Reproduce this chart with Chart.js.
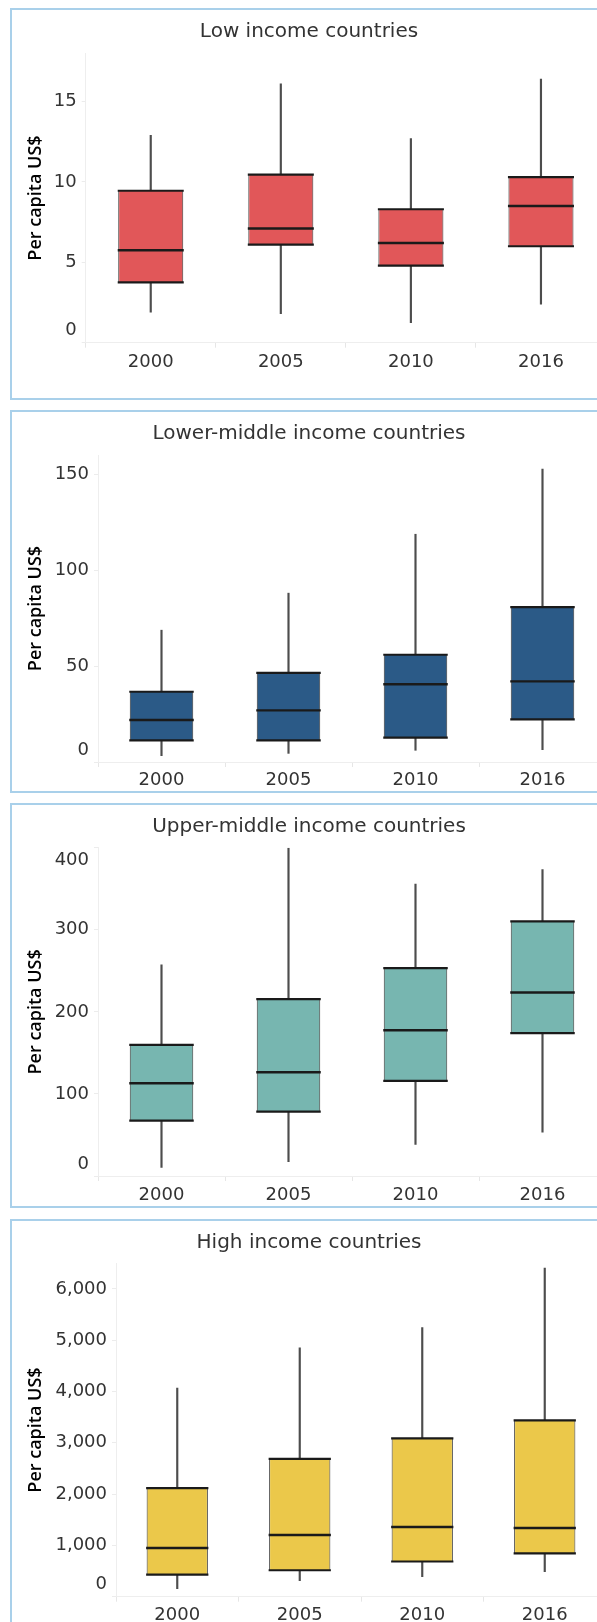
<!DOCTYPE html>
<html>
<head>
<meta charset="utf-8">
<script src="https://cdn.jsdelivr.net/npm/chart.js@4.4.1/dist/chart.umd.min.js"></script>
<style>
  html, body { margin: 0; padding: 0; background: #ffffff; }
  body { width: 597px; height: 1622px; overflow: hidden; position: relative; }
  .panel {
    position: absolute;
    left: 10px;
    border: 2px solid #a9d0ea;
    background: #ffffff;
  }
  .panel canvas { display: block; }
</style>
</head>
<body>
<div class="panel" id="p1"><canvas id="c1"></canvas></div>
<div class="panel" id="p2"><canvas id="c2"></canvas></div>
<div class="panel" id="p3"><canvas id="c3"></canvas></div>
<div class="panel" id="p4"><canvas id="c4"></canvas></div>

<script>
// ---- data ----
const years = ["2000", "2005", "2010", "2016"];

// Low income countries
const lowMin    = [1.9, 1.8, 1.25, 2.4];
const lowQ1     = [3.75, 6.1, 4.8, 6.0];
const lowMedian = [5.75, 7.1, 6.2, 8.5];
const lowQ3     = [9.45, 10.45, 8.3, 10.3];
const lowMax    = [12.9, 16.1, 12.7, 16.4];
const lowTicks  = [0, 5, 10, 15];

// Lower-middle income countries
const lmMin    = [3.3, 4.5, 6.1, 6.4];
const lmQ1     = [11.3, 11.3, 12.7, 22.2];
const lmMedian = [21.9, 26.9, 40.5, 42];
const lmQ3     = [36.6, 46.5, 55.9, 80.7];
const lmMax    = [68.7, 88, 118.7, 152.6];
const lmTicks  = [0, 50, 100, 150];

// Upper-middle income countries
const umMin    = [10.6, 17.5, 38.6, 53.3];
const umQ1     = [67.5, 78.5, 115.9, 174];
const umMedian = [113, 126.4, 177.6, 223.6];
const umQ3     = [159.8, 215.4, 253.3, 310.2];
const umMax    = [257.3, 399.6, 355.7, 373.2];
const umTicks  = [0, 100, 200, 300, 400];

// High income countries
const hiMin    = [157, 314, 392, 490];
const hiQ1     = [431, 516, 686, 843];
const hiMedian = [948, 1203, 1359, 1340];
const hiQ3     = [2118, 2686, 3085, 3438];
const hiMax    = [4065, 4850, 5248, 6405];
const hiTicks  = [0, 1000, 2000, 3000, 4000, 5000, 6000];

const yMaxes = [18, 160, 400, 6500];

// ---- panel layout (px, relative to the panel content box) ----
const panels = [
  { id: "1", top: 8,    h: 388, title: "Low income countries",
    color: "#e15759", stats: [lowMin, lowQ1, lowMedian, lowQ3, lowMax], ticks: lowTicks,
    titleMid: 21.7, plotTop: 43.3, plotBottom: 332.7, axisX: 73.7, xLab: 352.7 },
  { id: "2", top: 410,  h: 379, title: "Lower-middle income countries",
    color: "#2b5a87", stats: [lmMin, lmQ1, lmMedian, lmQ3, lmMax], ticks: lmTicks,
    titleMid: 21.3, plotTop: 43, plotBottom: 350, axisX: 86, xLab: 368 },
  { id: "3", top: 803,  h: 401, title: "Upper-middle income countries",
    color: "#77b6b0", stats: [umMin, umQ1, umMedian, umQ3, umMax], ticks: umTicks,
    titleMid: 21.7, plotTop: 42.7, plotBottom: 371, axisX: 86, xLab: 390 },
  { id: "4", top: 1219, h: 410, title: "High income countries",
    color: "#ebc84a", stats: [hiMin, hiQ1, hiMedian, hiQ3, hiMax], ticks: hiTicks,
    titleMid: 21.3, plotTop: 42.3, plotBottom: 375.7, axisX: 104, xLab: 394 }
];

const W = 600;          // canvas width (runs past the right edge like the original)
const PLOT_RIGHT = 594;
const FONT = "'DejaVu Sans', 'Open Sans', sans-serif";

// Tableau nudges the end labels inward; a blank second line does the same here
function yTick(value) {
  const text = value.toLocaleString("en-US");
  if (value === this.min) return [text, ""];
  if (value === this.max) return ["", text];
  return text;
}

// half the box width, so the marker line spans the box
const halfBox = (c) => c.chart.chartArea ? c.chart.chartArea.width / years.length / 4 + 0.5 : 30;

function markLine(values, order, width) {
  return {
    type: "line",
    data: values,
    showLine: false,
    pointStyle: "line",
    pointRadius: halfBox,
    pointHoverRadius: halfBox,
    pointBorderWidth: width,
    pointBorderColor: "#1a1a1a",
    pointBackgroundColor: "#1a1a1a",
    order: order
  };
}

panels.forEach((p, idx) => {
  const box = document.getElementById("p" + p.id);
  box.style.top = p.top + "px";
  const canvas = document.getElementById("c" + p.id);
  canvas.width = W;
  canvas.height = p.h;
  canvas.style.width = W + "px";
  canvas.style.height = p.h + "px";

  const [mins, q1, med, q3, maxs] = p.stats;

  new Chart(canvas.getContext("2d"), {
    type: "bar",
    data: {
      labels: years,
      datasets: [
        { // whiskers
          data: years.map((_, i) => [mins[i], maxs[i]]),
          backgroundColor: "#4d4d4d",
          barThickness: 1.5,
          grouped: false,
          order: 5
        },
        { // boxes
          data: years.map((_, i) => [q1[i], q3[i]]),
          backgroundColor: p.color,
          borderColor: "#3a3a3a",
          borderWidth: { left: 1, right: 1, top: 0, bottom: 0 },
          borderSkipped: false,
          barPercentage: 0.5,
          categoryPercentage: 1,
          grouped: false,
          order: 4
        },
        markLine(q1, 3, 2.2),
        markLine(q3, 2, 2.2),
        markLine(med, 1, 2.4)
      ]
    },
    options: {
      responsive: false,
      animation: false,
      devicePixelRatio: 1,
      layout: {
        autoPadding: false, // the wide median markers would otherwise pad the plot
        padding: { left: 0, right: W - PLOT_RIGHT, top: 0, bottom: 0 }
      },
      plugins: {
        legend: { display: false },
        tooltip: { enabled: false },
        title: {
          display: true,
          text: p.title,
          color: "#333333",
          font: { family: FONT, size: 20, weight: "normal", lineHeight: 1.2 },
          padding: { top: p.titleMid - 12, bottom: p.plotTop - p.titleMid - 12 }
        }
      },
      scales: {
        x: {
          offset: true,
          grid: {
            display: true,
            offset: true,
            drawOnChartArea: false,
            drawTicks: true,
            tickLength: 5,
            color: "#e6e6e6"
          },
          border: { display: true, color: "#eeeeee" },
          ticks: {
            color: "#333333",
            padding: (p.xLab - p.plotBottom) - 5 - 10.8,
            font: { family: FONT, size: 18, lineHeight: 1.2 },
            maxRotation: 0
          },
          afterFit: (s) => {
            s.height = p.h - p.plotBottom;
            s.paddingLeft = 0;
            s.paddingRight = 0;
          }
        },
        y: {
          min: 0,
          max: yMaxes[idx],
          bounds: "data",
          grid: {
            display: true,
            drawOnChartArea: false,
            drawTicks: true,
            tickLength: 4,
            color: "#ececec"
          },
          border: { display: true, color: "#eeeeee" },
          afterBuildTicks: (s) => { s.ticks = p.ticks.map((v) => ({ value: v })); },
          ticks: {
            color: "#333333",
            padding: 5,
            font: { family: FONT, size: 18, lineHeight: 1.35 },
            callback: yTick
          },
          title: {
            display: true,
            text: "Per capita US$",
            color: "#000000",
            font: { family: "'Open Sans', 'DejaVu Sans', sans-serif", size: 18, weight: "600", lineHeight: 1.2 },
            padding: { top: 13.5, bottom: 0 }
          },
          afterFit: (s) => {
            s.width = p.axisX;
            // end labels must not push the plot area around
            s.paddingTop = 0;
            s.paddingBottom = 0;
          }
        }
      }
    }
  });
});
</script>
</body>
</html>
